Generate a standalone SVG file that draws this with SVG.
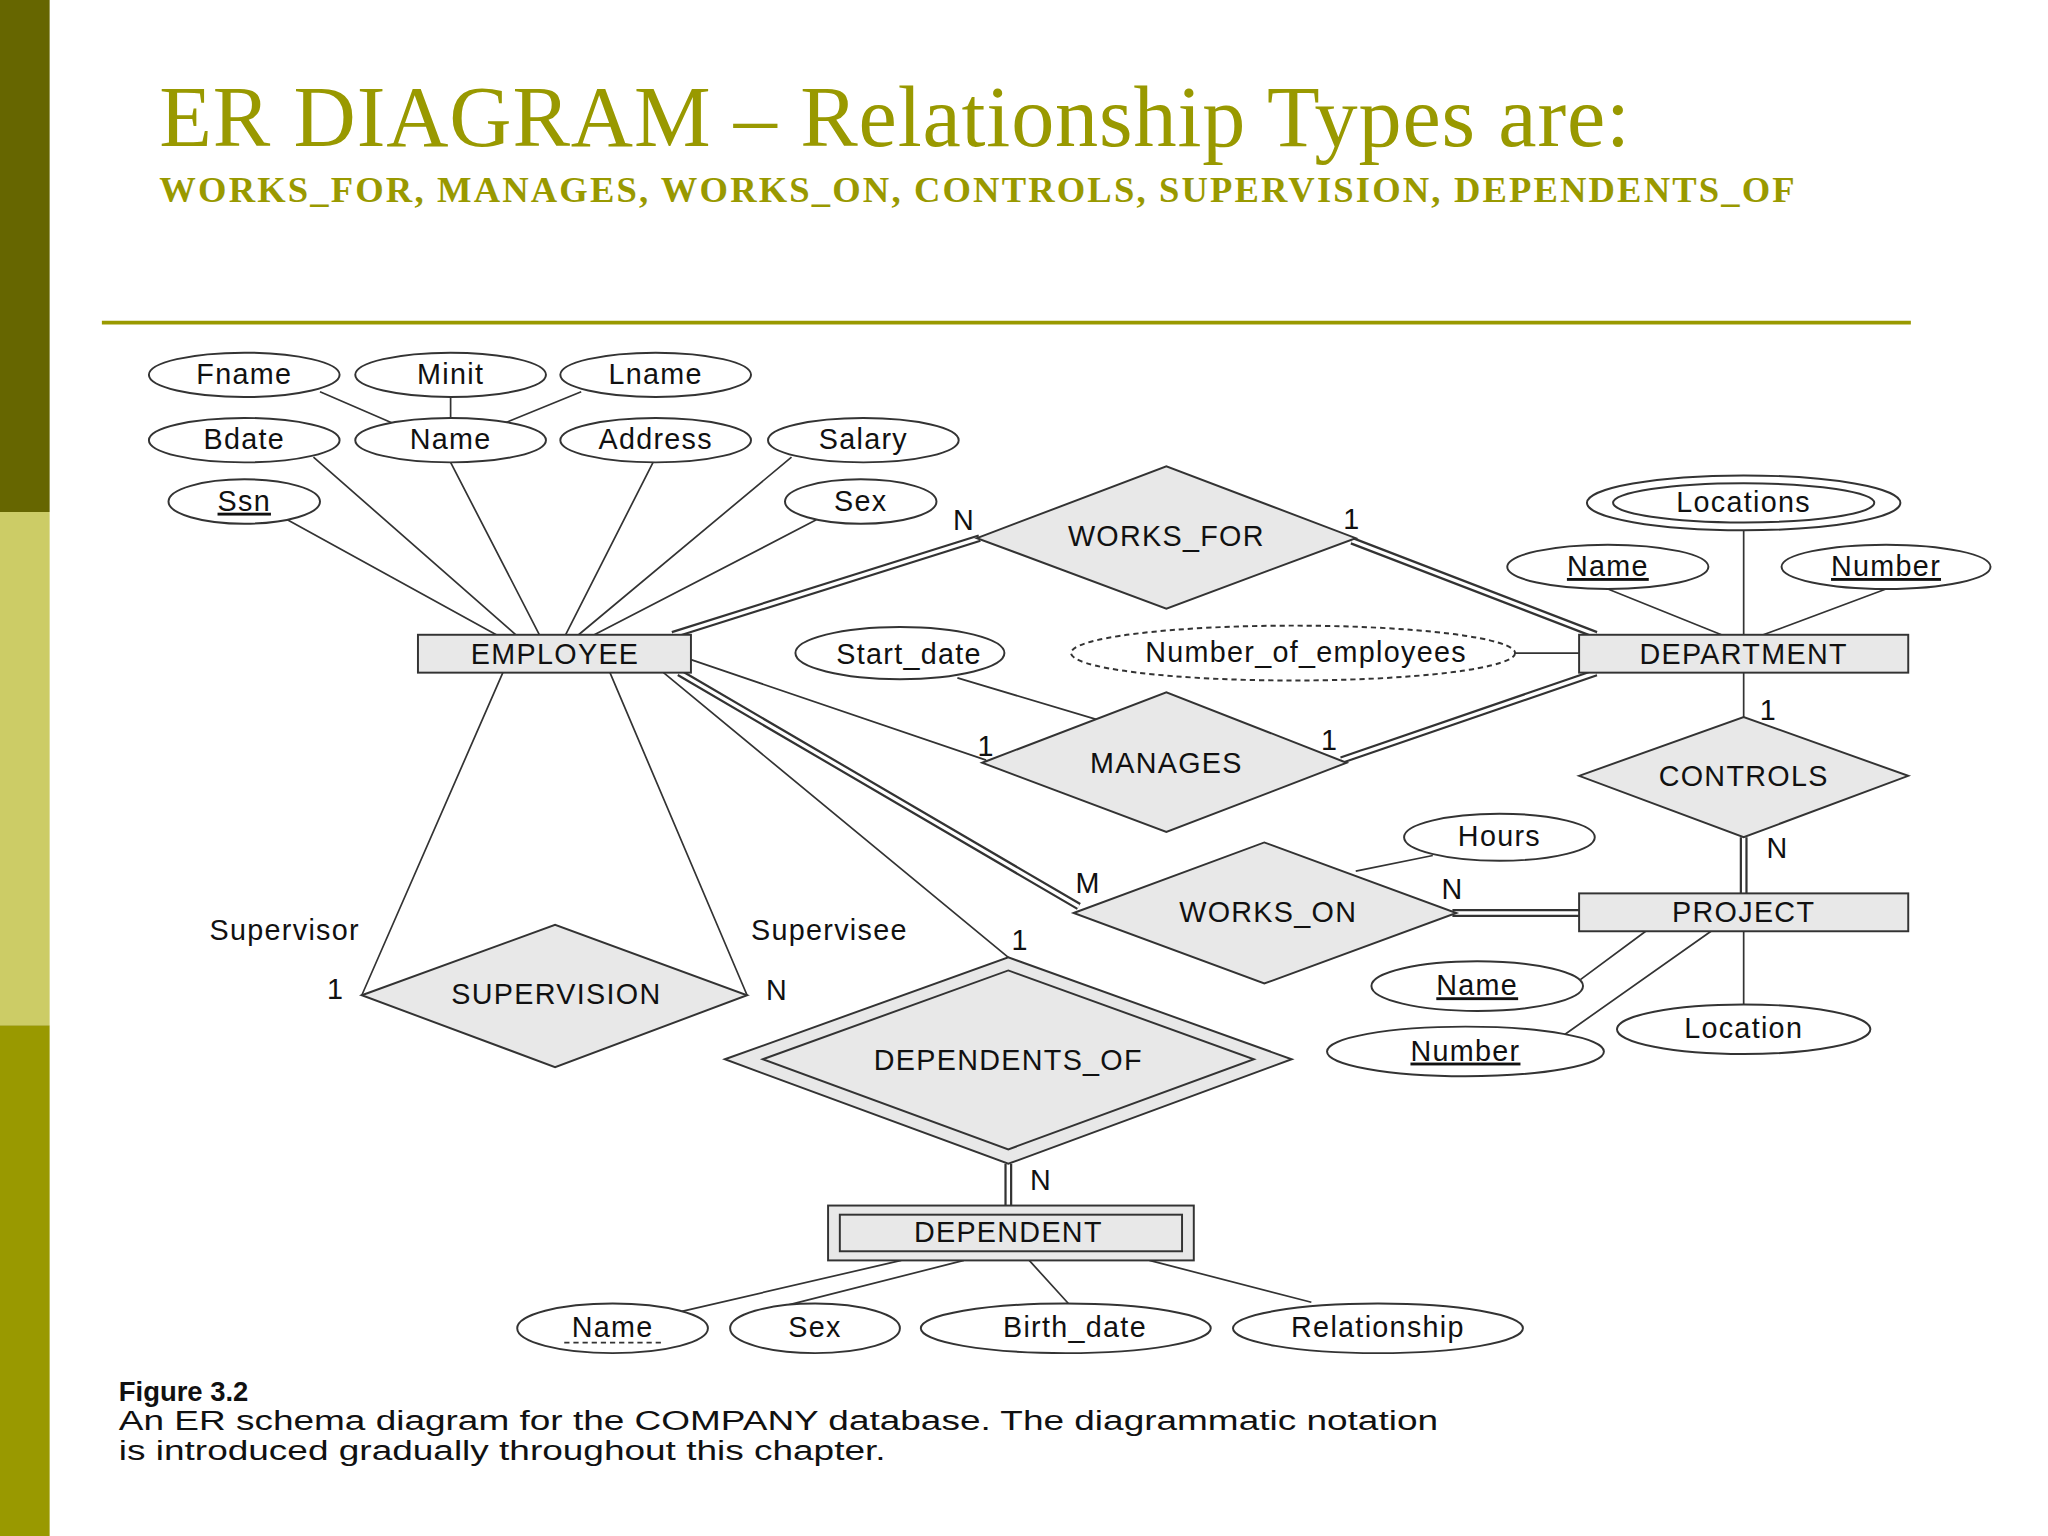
<svg xmlns="http://www.w3.org/2000/svg" width="2048" height="1536" viewBox="0 0 2048 1536">
<style>
.e{fill:#e8e8e8;stroke:#333;stroke-width:1.5}
.a{fill:#fff;stroke:#333;stroke-width:1.5}
.l{stroke:#333;stroke-width:1.3;fill:none}
.d1{stroke:#333;stroke-width:6;fill:none}
.d2{stroke:#fff;stroke-width:2.6;fill:none}
.t{font-family:"Liberation Sans",Arial,sans-serif;font-size:22px;fill:#111;text-anchor:middle;letter-spacing:1px}
.c{font-family:"Liberation Sans",Arial,sans-serif;font-size:21px;fill:#111}
</style>
<rect width="2048" height="1536" fill="#fff"/>
<g transform="scale(1.30612)">
<g id="sidebar">
<rect x="0" y="0" width="38" height="392" fill="#666600"/>
<rect x="0" y="392" width="38" height="393" fill="#cccc66"/>
<rect x="0" y="785" width="38" height="391" fill="#999900"/>
</g>
<g id="title">
<text x="122" y="112" font-family="Liberation Serif,serif" font-size="66" fill="#999900" textLength="1126">ER DIAGRAM – Relationship Types are:</text>
<text x="122" y="155" font-family="Liberation Serif,serif" font-size="28" font-weight="bold" fill="#999900" textLength="1252">WORKS_FOR, MANAGES, WORKS_ON, CONTROLS, SUPERVISION, DEPENDENTS_OF</text>
<line x1="78" y1="247" x2="1463" y2="247" stroke="#999900" stroke-width="3"/>
</g>
<g id="connectors">
<path class="l" d="M245,300L303,325M345,304L345,320M445,300L386,324M240,350L395,486M345,354L413,486M500,354L433,486M606,350L443,486M220,398L380,486M625,398L455,486M529,505L755,582M733,519L840,551M1160,500L1209,500M1335,406L1335,486M1231,451L1318,486M1444,451L1350,486M1335,515L1335,549M1038,667L1097,655M1260,713L1210,750M1310,713L1198,792M1335,713L1335,770M508,515L772,733M385,515L277,762M467,515L572,762M690,965L522,1004M738,965L600,1000M788,965L818,998M880,965L1004,997"/>
<path class="d1" d="M515,486L750,412M1035,414L1222,486M1222,515L1027,582M1335,641L1335,684M520,515L826,694M1112,699L1209,699M772,891L772,923"/>
<path class="d2" d="M515,486L750,412M1035,414L1222,486M1222,515L1027,582M1335,641L1335,684M520,515L826,694M1112,699L1209,699M772,891L772,923"/>
</g>
<g id="EMPLOYEE"><rect class="e" x="320" y="486" width="209" height="29"/><text class="t" x="425" y="508">EMPLOYEE</text></g>
<g id="DEPARTMENT"><rect class="e" x="1209" y="486" width="252" height="29"/><text class="t" x="1335" y="508">DEPARTMENT</text></g>
<g id="PROJECT"><rect class="e" x="1209" y="684" width="252" height="29"/><text class="t" x="1335" y="706">PROJECT</text></g>
<g id="DEPENDENT"><rect class="e" x="634" y="923" width="280" height="42"/><rect class="e" x="643" y="930" width="262" height="28"/><text class="t" x="772" y="951">DEPENDENT</text></g>
<g id="WORKS_FOR"><polygon class="e" points="748,412 893,357 1038,412 893,466"/><text class="t" x="893" y="418">WORKS_FOR</text></g>
<g id="MANAGES"><polygon class="e" points="752,584 893,530 1031,584 893,637"/><text class="t" x="893" y="592">MANAGES</text></g>
<g id="CONTROLS"><polygon class="e" points="1209,594 1335,549 1461,594 1335,641"/><text class="t" x="1335" y="602">CONTROLS</text></g>
<g id="WORKS_ON"><polygon class="e" points="822,699 968,645 1115,699 968,753"/><text class="t" x="971" y="706">WORKS_ON</text></g>
<g id="SUPERVISION"><polygon class="e" points="277,762 425,708 572,762 425,817"/><text class="t" x="426" y="769">SUPERVISION</text></g>
<g id="DEPENDENTS_OF"><polygon class="e" points="555,811 772,733 989,811 772,891"/><polygon class="e" points="584,811 772,743 960,811 772,880"/><text class="t" x="772" y="819">DEPENDENTS_OF</text></g>
<g id="attributes">
<ellipse class="a" cx="187" cy="287" rx="73" ry="17"/><text class="t" x="187" y="294">Fname</text>
<ellipse class="a" cx="345" cy="287" rx="73" ry="17"/><text class="t" x="345" y="294">Minit</text>
<ellipse class="a" cx="502" cy="287" rx="73" ry="17"/><text class="t" x="502" y="294">Lname</text>
<ellipse class="a" cx="187" cy="337" rx="73" ry="17"/><text class="t" x="187" y="344">Bdate</text>
<ellipse class="a" cx="345" cy="337" rx="73" ry="17"/><text class="t" x="345" y="344">Name</text>
<ellipse class="a" cx="502" cy="337" rx="73" ry="17"/><text class="t" x="502" y="344">Address</text>
<ellipse class="a" cx="661" cy="337" rx="73" ry="17"/><text class="t" x="661" y="344">Salary</text>
<ellipse class="a" cx="187" cy="384" rx="58" ry="17"/><text class="t" x="187" y="391" text-decoration="underline">Ssn</text>
<ellipse class="a" cx="659" cy="384" rx="58" ry="17"/><text class="t" x="659" y="391">Sex</text>
<ellipse class="a" cx="689" cy="500" rx="80" ry="20"/><text class="t" x="696" y="508">Start_date</text>
<ellipse class="a" cx="990" cy="500" rx="170" ry="21" stroke-dasharray="4,3"/><text class="t" x="1000" y="507">Number_of_employees</text>
<ellipse class="a" cx="1335" cy="385" rx="120" ry="21"/><ellipse class="a" cx="1335" cy="385" rx="100" ry="15"/><text class="t" x="1335" y="392">Locations</text>
<ellipse class="a" cx="1231" cy="434" rx="77" ry="17"/><text class="t" x="1231" y="441" text-decoration="underline">Name</text>
<ellipse class="a" cx="1444" cy="434" rx="80" ry="17"/><text class="t" x="1444" y="441" text-decoration="underline">Number</text>
<ellipse class="a" cx="1148" cy="641" rx="73" ry="18"/><text class="t" x="1148" y="648">Hours</text>
<ellipse class="a" cx="1131" cy="755" rx="81" ry="19"/><text class="t" x="1131" y="762" text-decoration="underline">Name</text>
<ellipse class="a" cx="1122" cy="805" rx="106" ry="19"/><text class="t" x="1122" y="812" text-decoration="underline">Number</text>
<ellipse class="a" cx="1335" cy="788" rx="97" ry="19"/><text class="t" x="1335" y="795">Location</text>
<ellipse class="a" cx="469" cy="1017" rx="73" ry="19"/><text class="t" x="469" y="1024">Name</text><line x1="432" y1="1028" x2="506" y2="1028" stroke="#333" stroke-width="1.3" stroke-dasharray="4,3"/>
<ellipse class="a" cx="624" cy="1017" rx="65" ry="19"/><text class="t" x="624" y="1024">Sex</text>
<ellipse class="a" cx="816" cy="1017" rx="111" ry="19"/><text class="t" x="823" y="1024">Birth_date</text>
<ellipse class="a" cx="1055" cy="1017" rx="111" ry="19"/><text class="t" x="1055" y="1024">Relationship</text>
</g>
<g id="labels" class="t">
<text x="738" y="406">N</text><text x="1035" y="405">1</text>
<text x="755" y="579">1</text><text x="1018" y="574">1</text>
<text x="1354" y="551">1</text><text x="1361" y="657">N</text>
<text x="833" y="684">M</text><text x="1112" y="688">N</text>
<text x="218" y="720">Supervisor</text><text x="257" y="765">1</text>
<text x="635" y="720">Supervisee</text><text x="595" y="766">N</text>
<text x="781" y="727">1</text><text x="797" y="911">N</text>
</g>
<g id="caption">
<text x="91" y="1073" class="c" font-weight="bold">Figure 3.2</text>
<text x="91" y="1095" class="c" textLength="1010" lengthAdjust="spacingAndGlyphs">An ER schema diagram for the COMPANY database. The diagrammatic notation</text>
<text x="91" y="1118" class="c" textLength="587" lengthAdjust="spacingAndGlyphs">is introduced gradually throughout this chapter.</text>
</g>
</g>
</svg>
